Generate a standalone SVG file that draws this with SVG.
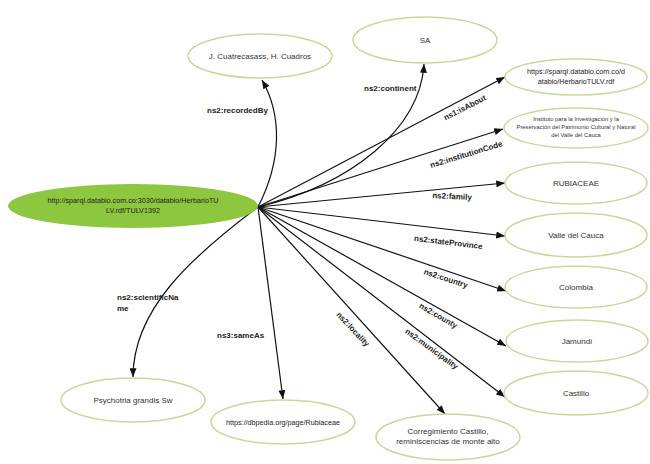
<svg xmlns="http://www.w3.org/2000/svg" width="650" height="464" viewBox="0 0 650 464">
<defs>
<marker id="arr" viewBox="0 0 10 8" refX="10" refY="4" markerWidth="9" markerHeight="7" markerUnits="userSpaceOnUse" orient="auto">
<path d="M0,0 L10,4 L0,8 z" fill="#111"/>
</marker>
<style>
.n{fill:#fff;stroke:#c8d89c;stroke-width:1.5}
.c{fill:#8dc63f;stroke:none}
.t{font-family:"Liberation Sans",Arial,sans-serif;font-size:8px;fill:#333;text-anchor:middle}
.ts{font-family:"Liberation Sans",Arial,sans-serif;font-size:5.8px;fill:#333;text-anchor:middle}
.tc{font-family:"Liberation Sans",Arial,sans-serif;font-size:7.2px;fill:#222;text-anchor:middle}
.e{fill:none;stroke:#111;stroke-width:1.2;marker-end:url(#arr)}
.l{font-family:"Liberation Sans",Arial,sans-serif;font-size:8px;font-weight:bold;fill:#222}
</style>
</defs>
<rect width="650" height="464" fill="#fff"/>
<g id="edges">
<path class="e" d="M258,207 C282,160 282,115 262,80"/>
<path class="e" d="M258,207 C350,185 420,130 424,64"/>
<path class="e" d="M258,207 L505,77"/>
<path class="e" d="M258,207 L503,129"/>
<path class="e" d="M258,207 L505,183"/>
<path class="e" d="M258,207 L505,236"/>
<path class="e" d="M258,207 L506,291"/>
<path class="e" d="M258,207 L506,346"/>
<path class="e" d="M258,207 L505,397"/>
<path class="e" d="M258,207 L445,414"/>
<path class="e" d="M258,207 L283,399"/>
<path class="e" d="M258,207 C190,258 133,310 133,377"/>
<text class="l" x="207" y="113">ns2:recordedBy</text>
<text class="l" x="364" y="91">ns2:continent</text>
<text class="l" x="466" y="110" text-anchor="middle" transform="rotate(-27 466 110)">ns1:isAbout</text>
<text class="l" x="467" y="157" text-anchor="middle" transform="rotate(-17 467 157)">ns2:institutionCode</text>
<text class="l" x="452" y="199" text-anchor="middle" transform="rotate(3 452 199)">ns2:family</text>
<text class="l" x="448" y="245" text-anchor="middle" transform="rotate(7 448 245)">ns2:stateProvince</text>
<text class="l" x="445" y="281" text-anchor="middle" transform="rotate(18 445 281)">ns2:country</text>
<text class="l" x="437" y="318" text-anchor="middle" transform="rotate(30 437 318)">ns2:county</text>
<text class="l" x="430" y="351" text-anchor="middle" transform="rotate(36 430 351)">ns2:municipality</text>
<text class="l" x="351" y="331" text-anchor="middle" transform="rotate(47 351 331)">ns2:locality</text>
<text class="l" x="217" y="338">ns3:sameAs</text>
<text class="l" x="117" y="300">ns2:scientificNa</text>
<text class="l" x="117" y="311">me</text>
</g>
<g id="center">
<ellipse class="c" cx="133" cy="206" rx="125" ry="22"/>
<text class="tc" x="133" y="203">http://sparql.databio.com.co:3030/databio/HerbarioTU</text>
<text class="tc" x="133" y="213">LV.rdf/TULV1392</text>
</g>
<g id="n-recorded">
<ellipse class="n" cx="260" cy="56" rx="72" ry="22"/>
<text class="t" x="260" y="59">J. Cuatrecasass, H. Cuadros</text>
</g>
<g id="n-sa">
<ellipse class="n" cx="425" cy="40" rx="72" ry="23"/>
<text class="t" x="425" y="43">SA</text>
</g>
<g id="n-about">
<ellipse class="n" cx="576" cy="77" rx="71" ry="18"/>
<text class="tc" x="576" y="74">https://sparql.databio.com.co/d</text>
<text class="tc" x="576" y="84">atabio/HerbarioTULV.rdf</text>
</g>
<g id="n-inst">
<ellipse class="n" cx="576" cy="128" rx="72" ry="20"/>
<text class="ts" x="576" y="121">Instituto para la Investigación y la</text>
<text class="ts" x="576" y="129">Preservación del Patrimonio Cultural y Natural</text>
<text class="ts" x="576" y="137">del Valle del Cauca</text>
</g>
<g id="n-family">
<ellipse class="n" cx="576" cy="183" rx="71" ry="21"/>
<text class="t" x="576" y="186">RUBIACEAE</text>
</g>
<g id="n-state">
<ellipse class="n" cx="576" cy="235" rx="71" ry="22"/>
<text class="t" x="576" y="238">Valle del Cauca</text>
</g>
<g id="n-country">
<ellipse class="n" cx="576" cy="287" rx="71" ry="21"/>
<text class="t" x="576" y="290">Colombia</text>
</g>
<g id="n-county">
<ellipse class="n" cx="577" cy="341" rx="71" ry="21"/>
<text class="t" x="577" y="344">Jamundí</text>
</g>
<g id="n-muni">
<ellipse class="n" cx="576" cy="393" rx="72" ry="22"/>
<text class="t" x="576" y="396">Castillo</text>
</g>
<g id="n-locality">
<ellipse class="n" cx="448" cy="437" rx="72" ry="23"/>
<text class="t" x="448" y="434">Corregimiento Castillo,</text>
<text class="t" x="448" y="444">reminiscencias de monte alto</text>
</g>
<g id="n-sameas">
<ellipse class="n" cx="283" cy="422" rx="72" ry="22"/>
<text class="tc" x="283" y="425">https://dbpedia.org/page/Rubiaceae</text>
</g>
<g id="n-sci">
<ellipse class="n" cx="133" cy="400" rx="72" ry="22"/>
<text class="t" x="133" y="403">Psychotria grandis Sw</text>
</g>
</svg>
